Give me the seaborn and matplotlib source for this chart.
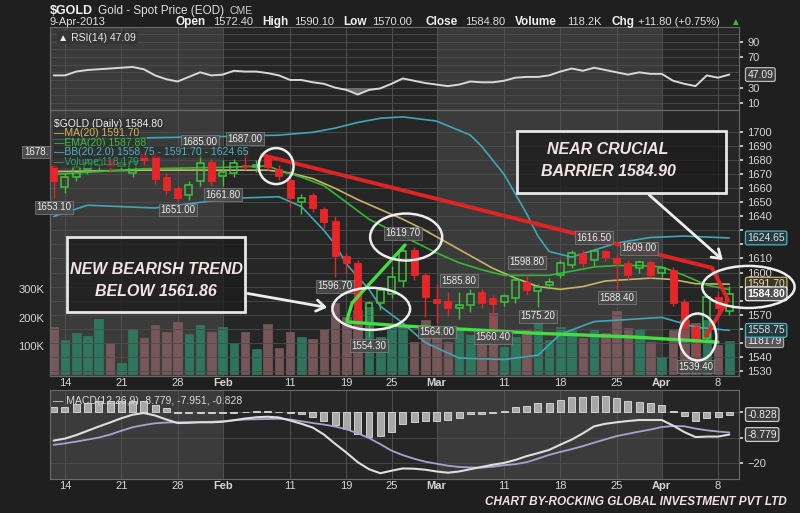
import numpy as np
import pandas as pd
import matplotlib
matplotlib.use("Agg")
import matplotlib.pyplot as plt
from matplotlib.patches import Ellipse, Rectangle, FancyArrowPatch
import seaborn as sns

# ============================================================================
# DATA  ($GOLD daily, 11-Jan-2013 .. 9-Apr-2013)
# ============================================================================

days = np.arange(61)  # trading-day index, 0 = 11-Jan

tick_days = [1, 6, 11, 15, 21, 26, 30, 34, 40, 45, 50, 54, 59]
tick_labels = ['14', '21', '28', 'Feb', '11', '19', '25', 'Mar', '11', '18', '25', 'Apr', '8']
month_labels = ['Feb', 'Mar', 'Apr']

opens = [1676, 1661, 1668, 1674, 1677, 1680, 1676, 1671, 1684, 1683,
         1668, 1660, 1655, 1665, 1679, 1669, 1671, 1677, 1675, 1682,
         1674, 1666, 1650, 1655, 1645, 1637, 1612, 1607, 1564, 1578,
         1585, 1594, 1616, 1598, 1581, 1580, 1575, 1577, 1586, 1582,
         1579, 1582, 1593, 1587, 1591, 1598.5, 1605.6, 1614, 1608.6, 1615.5,
         1610, 1607, 1603, 1607.5, 1600, 1602, 1579, 1561, 1553, 1582.5,
         1572.4]
highs = [1678, 1671, 1678, 1681, 1683, 1682, 1681, 1682, 1686, 1685,
         1671, 1662, 1665, 1685, 1681, 1680, 1681, 1687, 1680, 1684,
         1677, 1669, 1656, 1657, 1647, 1640, 1614, 1609, 1580, 1590,
         1605, 1619.7, 1618, 1600, 1592, 1586, 1585.8, 1588, 1588, 1584,
         1585, 1597, 1598.8, 1592, 1596, 1609, 1616, 1616, 1616.5, 1616,
         1613, 1609, 1609, 1609, 1605, 1604, 1581, 1563, 1584, 1586,
         1590.1]
lows = [1653.1, 1657, 1665, 1670, 1673, 1672, 1673, 1668, 1677, 1663,
        1656, 1651, 1652, 1662, 1662, 1661.8, 1668, 1673, 1672, 1673,
        1666, 1647, 1642, 1643, 1632, 1596.7, 1600, 1561, 1554.3, 1573,
        1582, 1590, 1595, 1568, 1564, 1569, 1567, 1572, 1575, 1560.4,
        1576, 1578, 1584, 1575.2, 1588, 1596, 1603, 1604, 1605, 1608,
        1588.4, 1595, 1600, 1596, 1597, 1576, 1555, 1539.4, 1550, 1570,
        1570]
closes = [1665, 1668, 1675, 1678, 1680, 1676, 1678, 1679, 1680, 1667,
          1659, 1653, 1662.5, 1678, 1665, 1672, 1678, 1676, 1677, 1675,
          1669, 1653, 1653, 1646, 1636, 1612, 1607, 1566, 1578, 1587.5,
          1597, 1615, 1598, 1582.5, 1578.5, 1575, 1577, 1585, 1578, 1577.6,
          1583, 1595, 1587.6, 1590, 1593, 1607, 1614, 1607, 1615, 1611,
          1606.8, 1598, 1607.5, 1598, 1603, 1578, 1561, 1552, 1582.5, 1574.6,
          1584.8]
volume_k = [168, 121, 144, 135, 194, 111, 40, 158, 127, 174,
            150, 185, 142, 174, 150, 168, 109, 150, 88, 177,
            91, 150, 132, 123, 158, 251, 203, 227, 239, 132,
            168, 168, 115, 191, 144, 115, 156, 138, 156, 215,
            97, 132, 156, 180, 121, 168, 156, 127, 156, 144,
            225, 162, 158, 115, 61, 156, 191, 180, 191, 103,
            118.179]

rsi = [46, 46, 51, 53, 54, 55, 56, 57, 54, 46,
       41, 38, 44, 50, 46, 47, 52, 51, 51, 49,
       46, 40, 40, 37, 35, 30, 27, 21, 27, 29,
       35, 42, 39, 36, 34, 32, 34, 38, 37, 37,
       39, 43, 44, 44, 46, 51, 55, 52, 56, 53,
       50, 47, 50, 48, 48, 39, 35, 32, 46, 43,
       47.09]

# overlays, read at selected days
bb_up_days = [0, 8, 15, 20, 23, 25, 27, 29, 31, 34, 37, 38, 39, 40, 41, 42, 43, 44, 46, 48, 50, 53, 56, 60]
bb_up = [1695, 1696, 1697, 1698, 1700, 1703, 1707, 1710, 1711, 1708, 1698, 1690, 1680, 1670,
         1656, 1642, 1626, 1615, 1611, 1616, 1621, 1625, 1626, 1624.65]
bb_lo_days = [0, 3, 9, 16, 20, 22, 24, 25, 26, 28, 29, 31, 33, 36, 40, 43, 45, 48, 54, 57, 60]
bb_lo = [1640, 1648, 1646, 1653, 1654, 1647, 1630, 1620, 1606, 1588, 1576, 1564, 1550, 1539,
         1538, 1541, 1556, 1565, 1568, 1561, 1558.75]
ma_days = [0, 8, 15, 19, 21, 23, 25, 27, 29, 31, 33, 35, 37, 39, 41, 43, 45, 47, 49, 51, 53, 55, 57, 60]
ma20 = [1672, 1673, 1673, 1673, 1671, 1667, 1660, 1652, 1645, 1638, 1630, 1621, 1612, 1603,
        1596, 1590, 1588, 1590, 1594, 1595, 1596, 1595, 1592, 1591.7]
ema_days = [0, 8, 15, 19, 20, 22, 24, 26, 28, 30, 32, 34, 36, 38, 40, 42, 44, 46, 48, 50, 52, 54, 56, 58, 60]
ema20 = [1670, 1674, 1675, 1676, 1673, 1668, 1662, 1650, 1638, 1630, 1622, 1614, 1607, 1602,
         1598, 1598, 1598, 1601, 1604, 1605, 1605, 1604, 1598, 1591, 1587.88]

macd = [-11.2, -10.4, -9.0, -7.3, -5.6, -4.0, -2.3, -0.9, -0.2, -1.2,
        -2.8, -4.2, -4.1, -3.9, -3.9, -3.7, -3.1, -2.4, -1.9, -1.7,
        -2.0, -3.2, -4.5, -6.0, -8.8, -12.5, -16.0, -19.8, -22.6, -24.2,
        -23.2, -22.3, -22.4, -22.8, -23.5, -24.0, -23.5, -22.6, -21.7, -20.8,
        -20.1, -18.9, -17.4, -16.2, -14.9, -12.8, -10.8, -8.3, -5.5, -4.5,
        -3.9, -3.4, -3.0, -3.0, -3.0, -5.2, -7.8, -9.8, -9.6, -9.6,
        -8.779]
macd_signal = [-12.9, -12.3, -11.6, -10.8, -10.0, -8.8, -7.3, -5.9, -5.0, -4.3,
               -4.0, -3.9, -3.9, -3.8, -3.7, -3.5, -3.1, -2.8, -2.7, -2.6,
               -2.5, -2.8, -3.5, -4.2, -4.8, -5.6, -6.7, -8.3, -10.2, -12.6,
               -15.2, -17.0, -18.4, -19.6, -20.4, -21.2, -21.7, -21.9, -22.0, -21.6,
               -21.0, -20.6, -19.8, -18.4, -16.9, -15.7, -14.6, -13.4, -12.0, -10.7,
               -9.4, -8.5, -7.6, -6.8, -5.8, -5.4, -5.5, -6.4, -7.1, -7.6,
               -7.951]
macd_hist = [2.0, 2.0, 3.2, 3.9, 4.6, 4.6, 4.6, 4.6, 4.6, 2.9,
             1.6, -0.3, -0.4, -0.2, -0.2, -0.2, -0.1, 0.3, 0.7, 0.7,
             0.3, -0.4, -0.8, -1.8, -3.2, -4.8, -6.4, -8.4, -9.7, -9.3,
             -7.6, -4.4, -3.7, -3.5, -3.3, -2.9, -2.0, -0.7, -0.5, -0.2,
             0.4, 2.0, 2.7, 3.6, 3.9, 4.9, 6.2, 6.2, 6.5, 6.4,
             5.8, 4.4, 4.2, 3.6, 2.9, 0.5, -1.2, -3.2, -2.1, -1.9,
             -0.828]

# high / low price flags
label_days = [0, 11, 13, 17, 15, 25, 31, 28, 36, 34, 39, 42, 43, 48, 52, 50, 57]
label_values = [1653.10, 1651.00, 1685.00, 1687.00, 1661.80, 1596.70, 1619.70, 1554.30, 1585.80,
                1564.00, 1560.40, 1598.80, 1575.20, 1616.50, 1609.00, 1588.40, 1539.40]
label_is_high = [False, False, True, True, False, False, True, False, True,
                 False, False, True, False, True, True, False, False]

# hand-drawn trend lines (day, price)
red_line_days = [18.5, 58.46, 59.88, 57.93]
red_line_prices = [1683.8, 1603.3, 1580.5, 1554.8]
green_up_days = [26.05, 26.5, 31.2]
green_up_prices = [1566.2, 1578.3, 1619.6]
green_flat_days = [26.05, 30.8, 42.6, 51.5, 59.0]
green_flat_prices = [1564.8, 1562.0, 1556.8, 1554.0, 1550.4]

# ============================================================================
# STYLE
# ============================================================================

sns.set_theme(style="dark", rc={
    'figure.facecolor': '#1f1f1f',
    'axes.facecolor': '#262626',
    'axes.edgecolor': '#6a6a6a',
    'axes.linewidth': 0.8,
    'grid.color': '#4c4c4c',
    'grid.linewidth': 0.6,
    'text.color': '#dddddd',
    'xtick.color': '#d0d0d0',
    'ytick.color': '#d0d0d0',
})
plt.rcParams['font.family'] = ['Liberation Sans', 'DejaVu Sans']

RED = '#e8262a'
GREEN = '#3ec43e'
BAND = '#3b3b3b'
TXT = '#d6d6d6'
ANNOT_FONT = ['Liberation Sans', 'DejaVu Sans']

W, H = 800, 513
fig = plt.figure(figsize=(W / 100, H / 100), dpi=100)


def rect(x0, y0, x1, y1):
    # pixel box (top-left origin) -> figure fraction rect
    return [x0 / W, 1 - y1 / H, (x1 - x0) / W, (y1 - y0) / H]


def fx(px):
    return px / W


def fy(py):
    return 1 - py / H


ax_rsi = fig.add_axes(rect(50, 27, 739, 110))
ax_vol = fig.add_axes(rect(50, 110, 739, 376))
ax_price = ax_vol.twinx()
ax_macd = fig.add_axes(rect(50, 390, 739, 479))

xlim = (-0.33, 60.86)
month_start = [tick_days[tick_labels.index(m)] for m in month_labels]
for ax in (ax_rsi, ax_vol, ax_macd):
    ax.set_xlim(*xlim)
    # alternate month shading: Jan and Mar lighter
    ax.axvspan(xlim[0], month_start[0], color=BAND, lw=0, zorder=0)
    ax.axvspan(month_start[1], month_start[2], color=BAND, lw=0, zorder=0)
    ax.set_xticks(tick_days)
    ax.grid(axis='x', color='#555555', lw=0.6, zorder=0.5)
    for sp in ax.spines.values():
        sp.set_color('#6a6a6a')
ax_price.set_xlim(*xlim)

# ============================================================================
# RSI PANEL
# ============================================================================

rsi_arr = np.array(rsi, dtype=float)
ax_rsi.set_ylim(0.8, 109.2)
ax_rsi.fill_between(days, rsi_arr, 30, where=rsi_arr < 30, interpolate=True,
                    color='#8a8a8a', alpha=0.7, lw=0, zorder=2)
sns.lineplot(x=days, y=rsi_arr, ax=ax_rsi, color='#d8d8d8', lw=1.4, zorder=3)
ax_rsi.yaxis.tick_right()
ax_rsi.set_yticks([10, 30, 70, 90])
ax_rsi.set_yticks(range(10, 101, 10), minor=True)
ax_rsi.grid(axis='y', which='both', color='#4c4c4c', lw=0.6)
ax_rsi.tick_params(axis='y', right=True, length=3, labelsize=8, pad=3, colors=TXT)
ax_rsi.tick_params(axis='y', which='minor', length=0)
ax_rsi.tick_params(axis='x', bottom=False, labelbottom=False, length=0)
ax_rsi.set_xlabel('')
ax_rsi.set_ylabel('')
ax_rsi.text(0.012, 0.93, '\u25b2 RSI(14) 47.09', transform=ax_rsi.transAxes, fontsize=7.5,
            color='#e8e8e8', va='top', ha='left',
            bbox=dict(boxstyle='square,pad=0.15', fc='#333333', ec='none', alpha=0.8))

# ============================================================================
# PRICE PANEL (volume underneath on its own left scale)
# ============================================================================

opens_a = np.array(opens, dtype=float)
closes_a = np.array(closes, dtype=float)
highs_a = np.array(highs, dtype=float)
lows_a = np.array(lows, dtype=float)
up = closes_a >= opens_a

vol_colors = np.where(up, '#2f7c62', '#7c5b5d')
ax_vol.bar(days, volume_k, width=0.76, color=vol_colors, edgecolor=vol_colors,
           lw=0.5, alpha=0.92, zorder=1)
ax_vol.set_ylim(-7.1, 936)
ax_vol.set_yticks([100, 200, 300])
ax_vol.set_yticklabels(['100K', '200K', '300K'])
ax_vol.tick_params(axis='y', left=False, length=0, labelsize=8, pad=4, colors=TXT)
ax_vol.tick_params(axis='x', bottom=False, length=0, labelsize=8, pad=1.5, colors=TXT)
ax_vol.set_xticklabels(tick_labels)

ax_price.set_ylim(1526.2, 1715.9)
price_ticks = list(range(1530, 1701, 10))
ax_price.set_yticks(price_ticks)
ax_price.grid(axis='y', color='#4c4c4c', lw=0.6)
ax_price.tick_params(axis='y', right=True, length=3, labelsize=8, pad=3, colors=TXT)

# bands and averages
sns.lineplot(x=bb_up_days, y=bb_up, ax=ax_price, color='#3fa8b8', lw=1.2, zorder=2)
sns.lineplot(x=bb_lo_days, y=bb_lo, ax=ax_price, color='#3fa8b8', lw=1.2, zorder=2)
sns.lineplot(x=ma_days, y=ma20, ax=ax_price, color='#c8b468', lw=1.2, zorder=2)
sns.lineplot(x=ema_days, y=ema20, ax=ax_price, color='#33b833', lw=1.2, zorder=2)

# candles: wicks above/below body, red filled, green hollow
body_top = np.maximum(opens_a, closes_a)
body_bot = np.minimum(opens_a, closes_a)
wick_col = np.where(up, GREEN, RED)
ax_price.vlines(days, body_top, highs_a, colors=wick_col, lw=1.0, zorder=3)
ax_price.vlines(days, lows_a, body_bot, colors=wick_col, lw=1.0, zorder=3)
ax_price.bar(days[~up], (body_top - body_bot)[~up], bottom=body_bot[~up], width=0.62,
             color=RED, edgecolor=RED, lw=0.6, zorder=4)
ax_price.bar(days[up], (body_top - body_bot)[up], bottom=body_bot[up], width=0.62,
             facecolor='none', edgecolor=GREEN, lw=1.1, zorder=4)

# hand drawn trend lines
sns.lineplot(x=red_line_days, y=red_line_prices, ax=ax_price, sort=False, estimator=None,
             color='#e02424', lw=2.8, zorder=5)
sns.lineplot(x=green_up_days, y=green_up_prices, ax=ax_price, sort=False, estimator=None,
             color='#44dd44', lw=2.4, zorder=5)
sns.lineplot(x=green_flat_days, y=green_flat_prices, ax=ax_price, sort=False, estimator=None,
             color='#44dd44', lw=2.4, zorder=5)
for ax in (ax_price, ax_vol):
    ax.set_xlabel('')
    ax.set_ylabel('')

# high / low flags
for d, v, hi in zip(label_days, label_values, label_is_high):
    ax_price.annotate(f'{v:.2f}', xy=(d, v), xytext=(0, 8.5 if hi else -6.5),
                      textcoords='offset points', ha='center', va='center',
                      fontsize=7, color='#eeeeee', zorder=7,
                      bbox=dict(boxstyle='square,pad=0.15', fc='#4a4a4a', ec='#8a8a8a',
                                lw=0.5, alpha=0.9))
fig.text(fx(36), fy(152), '1678.', fontsize=7, color='#eeeeee', ha='center', va='center',
         bbox=dict(boxstyle='square,pad=0.15', fc='#4a4a4a', ec='#8a8a8a', lw=0.5))

# legend rows
legend_rows = [('$GOLD (Daily) 1584.80', '#f0f0f0'),
               ('\u2014MA(20) 1591.70', '#d2b85e'),
               ('\u2014EMA(20) 1587.88', '#3cc03c'),
               ('\u2014BB(20,2.0) 1558.75 - 1591.70 - 1624.65', '#4ab4c4'),
               ('\u2014Volume 118,179', '#2aa07a')]
for i, (txt, c) in enumerate(legend_rows):
    fig.text(fx(54), fy(124 + 9.4 * i), txt, fontsize=7.5, color=c, ha='left', va='center',
             bbox=dict(boxstyle='square,pad=0.1', fc='#2a2a2a', ec='none', alpha=0.55))

# circles
circles = [(19.75, 1675.9, 3.1, 25.7), (28.2, 1574.1, 6.9, 30.0), (31.3, 1625.3, 6.4, 33.5),
           (57.2, 1554.0, 3.3, 33.5), (61.7, 1589.7, 8.2, 30.0)]
for cx, cy, w, h in circles:
    ax_price.add_patch(Ellipse((cx, cy), w, h, fill=False, ec='#eeeeee', lw=1.8,
                               zorder=9, clip_on=False))

# ============================================================================
# MACD PANEL
# ============================================================================

ax_macd.set_ylim(-26.5, 8.96)
ax_macd.bar(days, macd_hist, width=0.62, color='#a8a8a8', edgecolor='#e0e0e0', lw=0.6, zorder=2)
sns.lineplot(x=days, y=macd_signal, ax=ax_macd, color='#a4a4d0', lw=1.3, zorder=3)
sns.lineplot(x=days, y=macd, ax=ax_macd, color='#dedede', lw=1.5, zorder=4)
ax_macd.yaxis.tick_right()
macd_ticks = [-20, -10, 0]
ax_macd.set_yticks(macd_ticks)
ax_macd.grid(axis='y', color='#4c4c4c', lw=0.6)
ax_macd.tick_params(axis='y', right=True, length=3, labelsize=8, pad=3, colors=TXT)
ax_macd.tick_params(axis='x', bottom=False, length=0, labelsize=8, pad=1.5, colors=TXT)
ax_macd.set_xticklabels(tick_labels)
ax_macd.set_xlabel('')
ax_macd.set_ylabel('')
ax_macd.text(0.005, 0.935, '\u2014 MACD(12,26,9) -8.779, -7.951, -0.828', transform=ax_macd.transAxes,
             fontsize=7.5, color='#dcdcdc', va='top', ha='left')

for ax in (ax_vol, ax_macd):
    for lbl in ax.get_xticklabels():
        if lbl.get_text() in month_labels:
            lbl.set_fontweight('bold')

# ============================================================================
# RIGHT-HAND VALUE BADGES (the axis labels they cover are left out)
# ============================================================================


def badge(ax, y, text, ec, fc='#3a3a3a', color='#eeeeee', weight='normal'):
    ax.annotate(text, xy=(1, y), xycoords=('axes fraction', 'data'), xytext=(6, 0),
                textcoords='offset points', ha='left', va='center', fontsize=7.5,
                color=color, fontweight=weight, zorder=8, annotation_clip=False,
                bbox=dict(boxstyle='round,pad=0.18', fc=fc, ec=ec, lw=0.9))


badge(ax_rsi, rsi[-1], '47.09', '#bbbbbb', fc='#3a3a3a')
badge(ax_price, bb_up[-1], f'{bb_up[-1]:.2f}', '#4ab4c4', fc='#28383c', color='#cfe8ec')
badge(ax_price, ma20[-1], f'{ma20[-1]:.2f}', '#c8b468', fc='#3a3628', color='#e8e0c0')
badge(ax_price, closes[-1], f'{closes[-1]:.2f}', '#eeeeee', fc='#505050', color='#ffffff', weight='bold')
badge(ax_price, bb_lo[-1], f'{bb_lo[-1]:.2f}', '#4ab4c4', fc='#28383c', color='#cfe8ec')
badge(ax_vol, volume_k[-1], f'{volume_k[-1] * 1000:.0f}', '#aaaaaa', fc='#555555')
badge(ax_macd, macd_hist[-1], f'{macd_hist[-1]:.3f}', '#cccccc', fc='#3a3a3a')
badge(ax_macd, macd[-1], f'{macd[-1]:.3f}', '#cccccc', fc='#3a3a3a')

# volume badge expressed in price units, to find the covered price label
p0, p1 = ax_price.get_ylim()
v0, v1 = ax_vol.get_ylim()
vol_as_price = p0 + (volume_k[-1] - v0) / (v1 - v0) * (p1 - p0)
price_badges = [bb_up[-1], ma20[-1], closes[-1], bb_lo[-1], vol_as_price]
ax_price.set_yticklabels(['' if min(abs(t - b) for b in price_badges) < 6 else str(t)
                          for t in price_ticks])
macd_badges = [macd_hist[-1], macd[-1]]
ax_macd.set_yticklabels(['' if min(abs(t - b) for b in macd_badges) < 2.5 else f'{t}'.replace('-', '\u2212')
                         for t in macd_ticks])

# ============================================================================
# HEADER
# ============================================================================

fig.text(fx(50), fy(11), '$GOLD', fontsize=9, fontweight='bold', color='#f0f0f0', va='center')
fig.text(fx(98), fy(11), 'Gold - Spot Price (EOD)', fontsize=8.5, color='#e0e0e0', va='center')
fig.text(fx(230), fy(11.5), 'CME', fontsize=7.5, color='#d0d0d0', va='center')
fig.text(fx(50), fy(22), '9-Apr-2013', fontsize=8, color='#e0e0e0', va='center')
header_keys = ['Open', 'High', 'Low', 'Close', 'Volume', 'Chg']
header_vals = ['1572.40', '1590.10', '1570.00', '1584.80', '118.2K', '+11.80 (+0.75%)']
key_x = [176, 262, 343, 425, 515, 612]
val_x = [213, 294, 372, 465, 567, 638]
for k, v, kx, vx in zip(header_keys, header_vals, key_x, val_x):
    fig.text(fx(kx), fy(22), k, fontsize=8.5, fontweight='bold', color='#f0f0f0', va='center')
    fig.text(fx(vx), fy(22), v, fontsize=8, color='#e0e0e0', va='center')
fig.text(fx(735), fy(22), '\u25b2', fontsize=7, color='#2ec42e', va='center', ha='center')

# ============================================================================
# CALLOUT BOXES, ARROWS, WATERMARK
# ============================================================================

for (x0, y0, x1, y1) in [(67, 237, 245, 312), (517, 131, 726, 193)]:
    fig.patches.append(Rectangle((fx(x0), fy(y1)), (x1 - x0) / W, (y1 - y0) / H,
                                 transform=fig.transFigure, fill=True, fc='#1c1c1c',
                                 alpha=0.75, ec='none', zorder=10))
    fig.patches.append(Rectangle((fx(x0), fy(y1)), (x1 - x0) / W, (y1 - y0) / H,
                                 transform=fig.transFigure, fill=False, ec='#e6e6e6',
                                 lw=2.0, zorder=11))

callouts = [(156, 270, 'NEW BEARISH TREND'), (156, 291, 'BELOW 1561.86'),
            (608, 150, 'NEAR CRUCIAL'), (608, 172, 'BARRIER 1584.90')]
for x, y, t in callouts:
    fig.text(fx(x), fy(y), t, fontsize=11.5, fontweight='bold', fontstyle='italic',
             family=ANNOT_FONT, color='#f3e4e4', ha='center', va='center', zorder=12)

for (x0, y0, x1, y1) in [(245, 293, 330, 308), (647, 193, 725, 262)]:
    fig.add_artist(FancyArrowPatch(
        (x0, H - y0), (x1, H - y1), transform=None, arrowstyle='->,head_length=6,head_width=4',
        color='#eeeeee', lw=2.0, zorder=12))

fig.text(fx(787), fy(502), 'CHART BY-ROCKING GLOBAL INVESTMENT PVT LTD', fontsize=8.5,
         fontweight='bold', fontstyle='italic', family=ANNOT_FONT, color='#f3e4e4',
         ha='right', va='center')

fig.savefig('out.png', dpi=100, facecolor=fig.get_facecolor())
